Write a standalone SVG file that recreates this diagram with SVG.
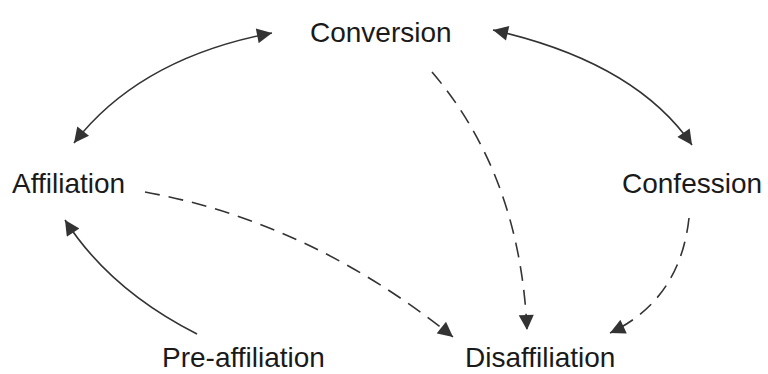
<svg xmlns="http://www.w3.org/2000/svg" width="768" height="374" viewBox="0 0 768 374">
<defs>
<style>
.lbl{font-family:"Liberation Sans",Arial,sans-serif;font-size:28px;fill:#1a1a1a}
.c{fill:none;stroke:#333;stroke-width:1.6}
.d{stroke-dasharray:15 9}
</style>
<marker id="ah" viewBox="0 0 10 10" refX="10" refY="5" markerUnits="userSpaceOnUse" markerWidth="16" markerHeight="15" orient="auto-start-reverse">
<path d="M0,0 L10,5 L0,10 z" fill="#333"/>
</marker>
</defs>
<rect width="768" height="374" fill="#fff"/>
<g id="connectors">
<path class="c" d="M272,33 Q140,58 74,143" marker-start="url(#ah)" marker-end="url(#ah)"/>
<path class="c" d="M493,30 Q635,62 692,145" marker-start="url(#ah)" marker-end="url(#ah)"/>
<path class="c" d="M197,334 Q110,290 65,220" marker-end="url(#ah)"/>
<path class="c d" d="M145,192 Q310,222 453,337" marker-end="url(#ah)"/>
<path class="c d" d="M432,72 Q520,175 527,330" marker-end="url(#ah)"/>
<path class="c d" d="M689,218 Q680,300 610,333" marker-end="url(#ah)"/>
</g>
<g id="conversion"><text class="lbl" x="310" y="42">Conversion</text></g>
<g id="affiliation"><text class="lbl" x="12" y="193">Affiliation</text></g>
<g id="confession"><text class="lbl" x="622" y="193">Confession</text></g>
<g id="pre-affiliation"><text class="lbl" x="162" y="367">Pre-affiliation</text></g>
<g id="disaffiliation"><text class="lbl" x="465" y="367">Disaffiliation</text></g>
</svg>
